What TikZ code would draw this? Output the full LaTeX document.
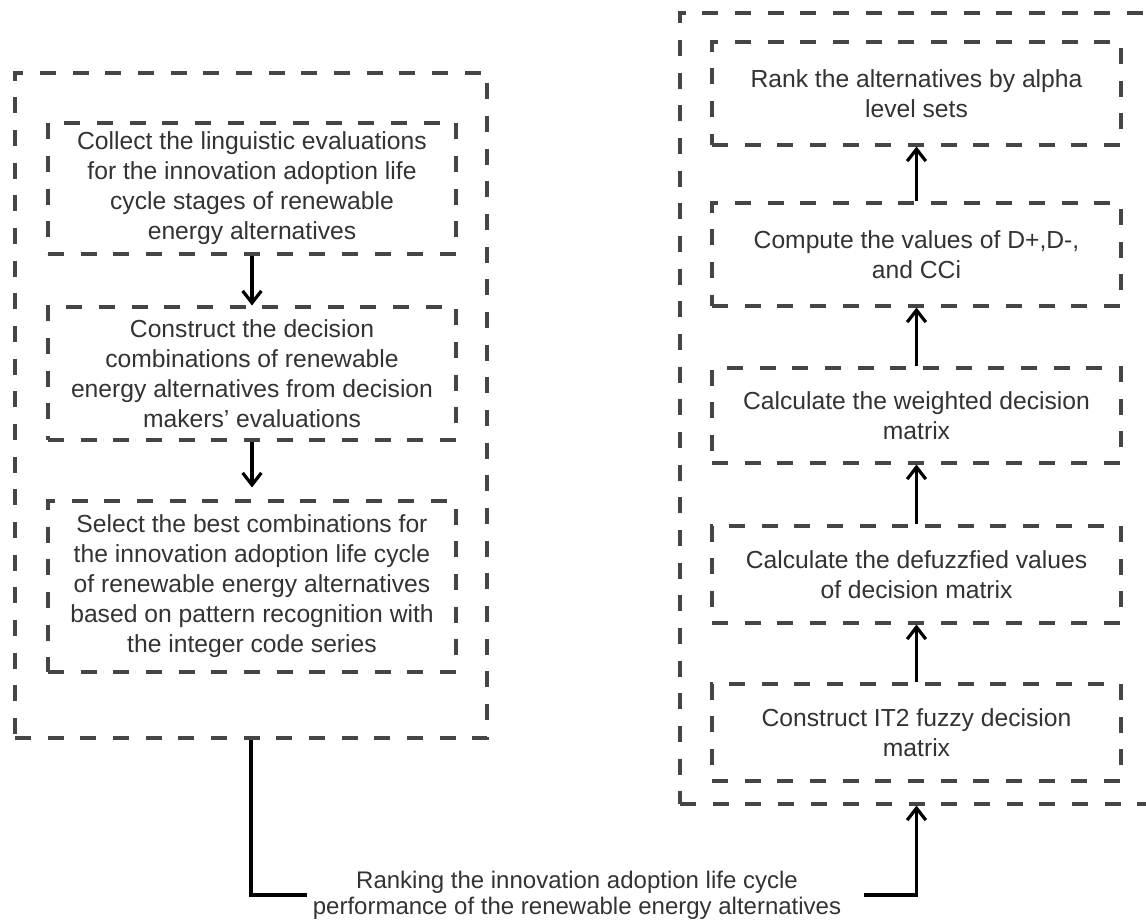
\documentclass[tikz,border=0pt]{standalone}
\usepackage{fontspec}
\setmainfont{Liberation Sans}
\usetikzlibrary{arrows.meta}
\definecolor{txtc}{HTML}{333333}
\definecolor{dashc}{HTML}{454545}
\begin{document}
\begin{tikzpicture}[x=0.75pt,y=-0.75pt,
  dbox/.style={draw=dashc, line width=2.3pt, dash pattern=on 12pt off 12.5pt,
    rectangle, inner sep=0pt, align=center, text=txtc,
    font=\fontsize{18.5}{22.5}\selectfont},
  frame/.style={draw=dashc, line width=2.3pt, dash pattern=on 12pt off 12.5pt,
    rectangle, inner sep=0pt},
  flow/.style={draw=black, line width=2.4pt,
    -{Straight Barb[length=9pt,width=14pt,line width=2.4pt]}},
  link/.style={draw=black, line width=2.4pt}]
\useasboundingbox (0,0) rectangle (1146,924);
\fill[white] (0,0) rectangle (1146,924);

% left outer frame
\node[frame, minimum width=354pt, minimum height=498.75pt] (L) at (251,405.5) {};
% left inner boxes
\node[dbox, minimum width=306pt, minimum height=98.25pt] (b1) at (252,188.5)
  {Collect the linguistic evaluations\\for the innovation adoption life\\cycle stages of renewable\\energy alternatives};
\node[dbox, minimum width=306pt, minimum height=99.75pt] (b2) at (252,373.5)
  {Construct the decision\\combinations of renewable\\energy alternatives from decision\\makers’ evaluations};
\node[dbox, minimum width=306pt, minimum height=128.25pt] (b3) at (252,586.5)
  {Select the best combinations for\\the innovation adoption life cycle\\of renewable energy alternatives\\based on pattern recognition with\\the integer code series};

% right outer frame
\node[frame, minimum width=354.75pt, minimum height=593.25pt] (R) at (916.5,408.5) {};
% right inner boxes
\node[dbox, minimum width=306.75pt, minimum height=77.25pt] (rA) at (916.5,93.5)
  {Rank the alternatives by alpha\\level sets};
\node[dbox, minimum width=306.75pt, minimum height=77.25pt] (rB) at (916.5,254.5)
  {Compute the values of D+,D-,\\and CCi};
\node[dbox, minimum width=306.75pt, minimum height=71.25pt] (rC) at (916.5,415.5)
  {Calculate the weighted decision\\matrix};
\node[dbox, minimum width=306.75pt, minimum height=72.75pt] (rD) at (916.5,574.5)
  {Calculate the defuzzfied values\\of decision matrix};
\node[dbox, minimum width=306.75pt, minimum height=72.75pt] (rE) at (916.5,732.5)
  {Construct IT2 fuzzy decision\\matrix};

% bottom label
\node[align=center, text=txtc, inner sep=4.5pt, font=\fontsize{18}{19.5}\selectfont] (T) at (577,895)
  {Ranking the innovation adoption life cycle\\performance of the renewable energy alternatives};

% arrows
\draw[flow] (b1.south) -- (b2.north);
\draw[flow, shorten >=9pt] (b2.south) -- (b3.north);
\draw[flow] (rE.north) -- (rD.south);
\draw[flow] (rD.north) -- (rC.south);
\draw[flow] (rC.north) -- (rB.south);
\draw[flow] (rB.north) -- (rA.south);
\draw[link] (L.south) |- (T.west);
\draw[flow, shorten <=12.75pt] (T.east) -| (R.south);
\end{tikzpicture}
\end{document}
